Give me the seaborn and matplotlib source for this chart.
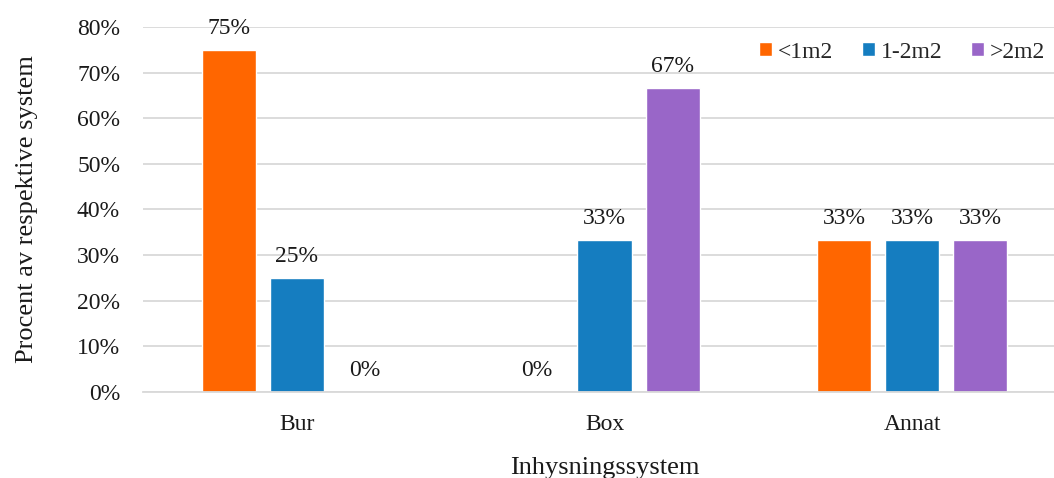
import matplotlib
matplotlib.use("Agg")
import matplotlib.pyplot as plt
import seaborn as sns
import pandas as pd

categories = ["Bur", "Box", "Annat"]
groups = ["<1m2", "1-2m2", ">2m2"]
values_small = [0.75, 0.0, 1/3]
values_mid = [0.25, 1/3, 1/3]
values_large = [0.0, 2/3, 1/3]
colors = ["#FF6600", "#157DC0", "#9966C8"]
yticks = [0, 0.1, 0.2, 0.3, 0.4, 0.5, 0.6, 0.7, 0.8]

df = pd.DataFrame({
    "system": categories * 3,
    "size": [g for g in groups for _ in categories],
    "share": values_small + values_mid + values_large,
})

sns.set_theme(style="white")
plt.rcParams["font.family"] = ["Liberation Serif", "DejaVu Serif"]
plt.rcParams["font.size"] = 17

text_color = "#1a1a1a"
fig = plt.figure(figsize=(10.54, 4.78), dpi=100)
# the plotting area runs slightly past the right edge of the canvas
ax = fig.add_axes([0.1357, 0.18, 0.8757, 0.7635])

sns.barplot(data=df, x="system", y="share", hue="size", order=categories,
            hue_order=groups, palette=colors, width=0.664, gap=0.205,
            saturation=1, ax=ax, legend=True)

for container in ax.containers:
    labels = [f"{v*100:.0f}%" for v in container.datavalues]
    ax.bar_label(container, labels=labels, padding=8, fontsize=17, color=text_color)

ax.set_ylim(0, 0.8)
ax.set_yticks(yticks)
ax.set_yticklabels([f"{int(round(t*100))}%" for t in yticks], fontsize=17, color=text_color)
ax.tick_params(axis="x", labelsize=17, colors=text_color, pad=16, length=0)
ax.tick_params(axis="y", pad=16.5, length=0)
ax.yaxis.grid(True, color="#D9D9D9", linewidth=1.3)
ax.set_axisbelow(True)
for s in ["left", "right", "top"]:
    ax.spines[s].set_visible(False)
ax.spines["bottom"].set_color("#D9D9D9")
ax.spines["bottom"].set_linewidth(1.3)

ax.set_xlabel("Inhysningssystem", fontsize=19, color=text_color, labelpad=16)
ax.set_ylabel("Procent av respektive system", fontsize=19, color=text_color, labelpad=28)

leg = ax.legend(loc="upper right", ncol=3, frameon=False, fontsize=17,
                handlelength=0.55, handleheight=0.55, handletextpad=0.25,
                columnspacing=1.2, bbox_to_anchor=(1.0, 1.018))

fig.savefig("out.png", dpi=100)
